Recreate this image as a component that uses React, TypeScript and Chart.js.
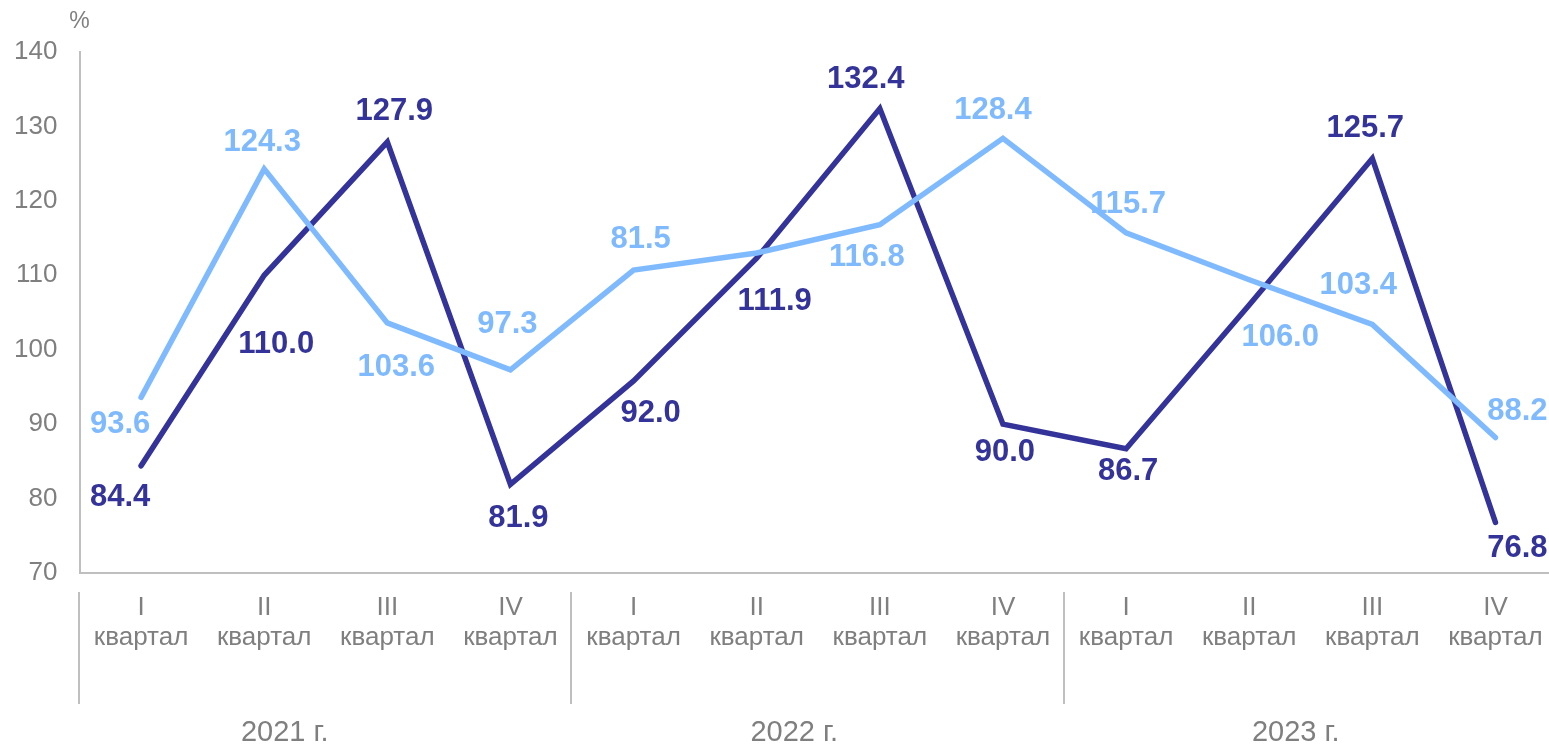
import React, { useEffect, useRef } from "react";
import { Chart, registerables } from "chart.js";

Chart.register(...registerables);

// ---- data ----
const quarterNames = ["I", "II", "III", "IV"];
const quarterWord = "квартал";
const years = ["2021 г.", "2022 г.", "2023 г."];
const categories = years.flatMap(() => quarterNames.map((q) => [q, quarterWord]));

const seriesLight = [93.6, 124.3, 103.6, 97.3, 110.7, 113.0, 116.8, 128.4, 115.7, 109.4, 103.4, 88.2];
const seriesDark = [84.4, 110.0, 127.9, 81.9, 95.8, 112.3, 132.4, 90.0, 86.7, 106.0, 125.7, 76.8];

const labelsLight = ["93.6", "124.3", "103.6", "97.3", "81.5", "", "116.8", "128.4", "115.7", "106.0", "103.4", "88.2"];
const labelsDark = ["84.4", "110.0", "127.9", "81.9", "92.0", "111.9", "132.4", "90.0", "86.7", "", "125.7", "76.8"];

const yTicks = [70, 80, 90, 100, 110, 120, 130, 140];

// ---- styling / layout (not data) ----
const COLOR_LIGHT = "#7fbaff";
const COLOR_DARK = "#333399";
const GRAY_TEXT = "#7f7f7f";
const AXIS_GRAY = "#bfbfbf";
const FONT = "'Liberation Sans', Arial, sans-serif";

// label offsets from their point, in px
const offsetsLight: [number, number][] = [
  [-21, 27], [-2, -26], [9, 45], [-3, -45], [7, -31], [0, 0],
  [-13, 33], [-10, -28], [2, -28], [31, 58], [-14, -39], [22, -26],
];
const offsetsDark: [number, number][] = [
  [-21, 32], [12, 69], [7, -31], [8, 34], [17, 32], [18, 43],
  [-14, -29], [2, 28], [2, 23], [0, 0], [-7, -30], [22, 26],
];
const yearShift = [-41, -24, -15];

const CANVAS_W = 1557;
const CANVAS_H = 745;

const decorPlugin = {
  id: "decor",
  afterDatasetsDraw(chart: any) {
    const ctx = chart.ctx;
    const sets = [
      { labels: labelsLight, offs: offsetsLight, color: COLOR_LIGHT },
      { labels: labelsDark, offs: offsetsDark, color: COLOR_DARK },
    ];
    ctx.save();
    ctx.font = `bold 31px ${FONT}`;
    ctx.textAlign = "center";
    ctx.textBaseline = "middle";
    sets.forEach((s, i) => {
      const meta = chart.getDatasetMeta(i);
      meta.data.forEach((pt: any, j: number) => {
        const t = s.labels[j];
        if (!t) return;
        ctx.fillStyle = s.color;
        ctx.fillText(t, pt.x + s.offs[j][0], pt.y + s.offs[j][1]);
      });
    });
    ctx.restore();
  },
  afterDraw(chart: any) {
    const ctx = chart.ctx;
    const area = chart.chartArea;
    const xs = chart.scales.x;
    const catW = (area.right - area.left) / categories.length;
    ctx.save();
    // category labels (two lines)
    ctx.fillStyle = GRAY_TEXT;
    ctx.font = `26px ${FONT}`;
    ctx.textAlign = "center";
    ctx.textBaseline = "middle";
    categories.forEach((c, j) => {
      const x = xs.getPixelForValue(j);
      ctx.fillText(c[0], x, area.bottom + 35);
      ctx.fillText(c[1], x, area.bottom + 65);
    });
    // group separators
    ctx.strokeStyle = AXIS_GRAY;
    ctx.lineWidth = 2;
    for (let k = 0; k <= years.length; k++) {
      const x = Math.round(area.left + k * quarterNames.length * catW) - 1;
      ctx.beginPath();
      ctx.moveTo(x, area.bottom + 19);
      ctx.lineTo(x, area.bottom + 131);
      ctx.stroke();
    }
    // year labels
    ctx.font = `29px ${FONT}`;
    years.forEach((y, k) => {
      const cx = area.left + (k * quarterNames.length + quarterNames.length / 2) * catW + yearShift[k];
      ctx.fillText(y, cx, area.bottom + 160);
    });
    // unit
    ctx.font = `23px ${FONT}`;
    ctx.fillText("%", area.left, 22);
    ctx.restore();
  },
};

export default function App() {
  const ref = useRef<HTMLCanvasElement | null>(null);
  useEffect(() => {
    if (!ref.current) return;
    const chart = new Chart(ref.current, {
      type: "line",
      data: {
        labels: categories,
        datasets: [
          {
            data: seriesLight,
            borderColor: COLOR_LIGHT,
            backgroundColor: COLOR_LIGHT,
            borderWidth: 5.5,
            pointRadius: 0,
            tension: 0,
            borderCapStyle: "round",
            borderJoinStyle: "miter",
          },
          {
            data: seriesDark,
            borderColor: COLOR_DARK,
            backgroundColor: COLOR_DARK,
            borderWidth: 5.5,
            pointRadius: 0,
            tension: 0,
            borderCapStyle: "round",
            borderJoinStyle: "miter",
          },
        ],
      },
      options: {
        animation: false,
        responsive: false,
        maintainAspectRatio: false,
        layout: { padding: { top: 52, right: 0, left: 0, bottom: 0 } },
        plugins: { legend: { display: false }, tooltip: { enabled: false } },
        scales: {
          x: {
            type: "category",
            offset: true,
            grid: { display: false, drawTicks: false },
            border: { display: true, color: AXIS_GRAY, width: 2 },
            ticks: { display: false },
            afterFit: (s: any) => {
              s.height = 172;
            },
          },
          y: {
            min: 70,
            max: 140,
            grid: { display: false, drawTicks: false },
            border: { display: true, color: AXIS_GRAY, width: 2 },
            afterBuildTicks: (s: any) => {
              s.ticks = yTicks.map((v) => ({ value: v }));
            },
            ticks: {
              color: GRAY_TEXT,
              font: { family: FONT, size: 26 },
              padding: 22,
            },
            afterFit: (s: any) => {
              s.width = 79.5;
            },
          },
        },
      },
      plugins: [decorPlugin],
    });
    return () => chart.destroy();
  }, []);

  return (
    <div style={{ position: "fixed", left: 0, top: 0, width: 1549, height: 745, overflow: "hidden", background: "#fff" }}>
      <canvas ref={ref} width={CANVAS_W} height={CANVAS_H} style={{ width: CANVAS_W, height: CANVAS_H, display: "block" }} />
    </div>
  );
}
